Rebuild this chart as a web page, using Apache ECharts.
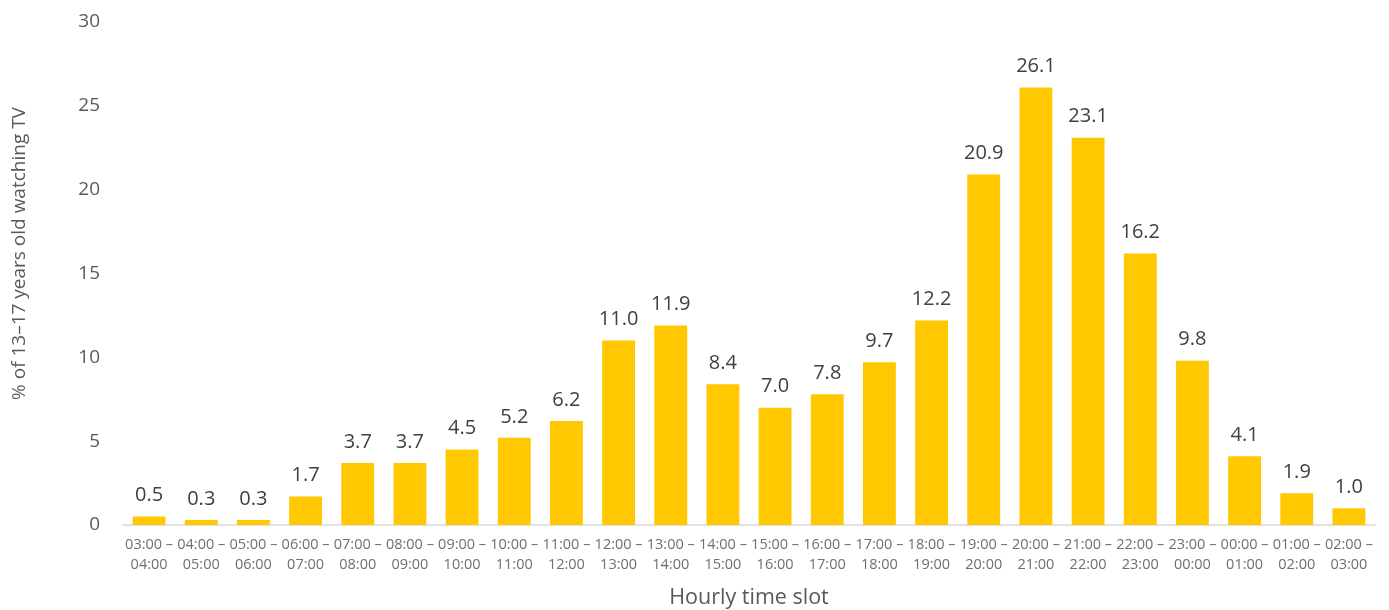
<!DOCTYPE html>
<html>
<head>
<meta charset="utf-8">
<script src="https://cdn.jsdelivr.net/npm/echarts@6/dist/echarts.min.js"></script>
<style>html,body{margin:0;padding:0;background:#fff;}#c{width:1389px;height:610px;}</style>
</head>
<body>
<div id="c"></div>
<script>
const categories = ["03:00 –\n04:00","04:00 –\n05:00","05:00 –\n06:00","06:00 –\n07:00","07:00 –\n08:00","08:00 –\n09:00","09:00 –\n10:00","10:00 –\n11:00","11:00 –\n12:00","12:00 –\n13:00","13:00 –\n14:00","14:00 –\n15:00","15:00 –\n16:00","16:00 –\n17:00","17:00 –\n18:00","18:00 –\n19:00","19:00 –\n20:00","20:00 –\n21:00","21:00 –\n22:00","22:00 –\n23:00","23:00 –\n00:00","00:00 –\n01:00","01:00 –\n02:00","02:00 –\n03:00"];
const values = [0.5,0.3,0.3,1.7,3.7,3.7,4.5,5.2,6.2,11.0,11.9,8.4,7.0,7.8,9.7,12.2,20.9,26.1,23.1,16.2,9.8,4.1,1.9,1.0];
const yTicks = {min:0, max:30, interval:5};
const chart = echarts.init(document.getElementById('c'), null, {renderer:'canvas'});
chart.setOption({
  animation:false,
  grid:{left:123, right:14, top:22, bottom:85, outerBoundsMode:'none', containLabel:false},
  xAxis:{
    type:'category', data:categories,
    name:'Hourly time slot', nameLocation:'middle', nameGap:62,
    nameTextStyle:{fontFamily:'Open Sans', fontSize:21.5, color:'#595959'},
    axisLine:{lineStyle:{color:'#d9d9d9', width:1.5}},
    axisTick:{show:false},
    axisLabel:{interval:0, fontFamily:'Open Sans', fontSize:14.5, color:'#6f6f6f', lineHeight:20, margin:10}
  },
  yAxis:{
    type:'value', min:yTicks.min, max:yTicks.max, interval:yTicks.interval,
    name:'% of 13–17 years old watching TV', nameLocation:'middle', nameGap:94,
    nameTextStyle:{fontFamily:'Open Sans', fontSize:19, color:'#595959', padding:[0,0,0,40]},
    axisLine:{show:false}, axisTick:{show:false}, splitLine:{show:false},
    axisLabel:{fontFamily:'Open Sans', fontSize:19, color:'#595959', margin:23}
  },
  series:[{
    type:'bar', data:values, barWidth:'63%',
    itemStyle:{color:'#FFC800'},
    label:{show:true, position:'top', distance:11, fontFamily:'Open Sans', fontSize:20, color:'#404040',
      formatter:p=>p.value.toFixed(1)}
  }]
});
</script>
</body>
</html>
